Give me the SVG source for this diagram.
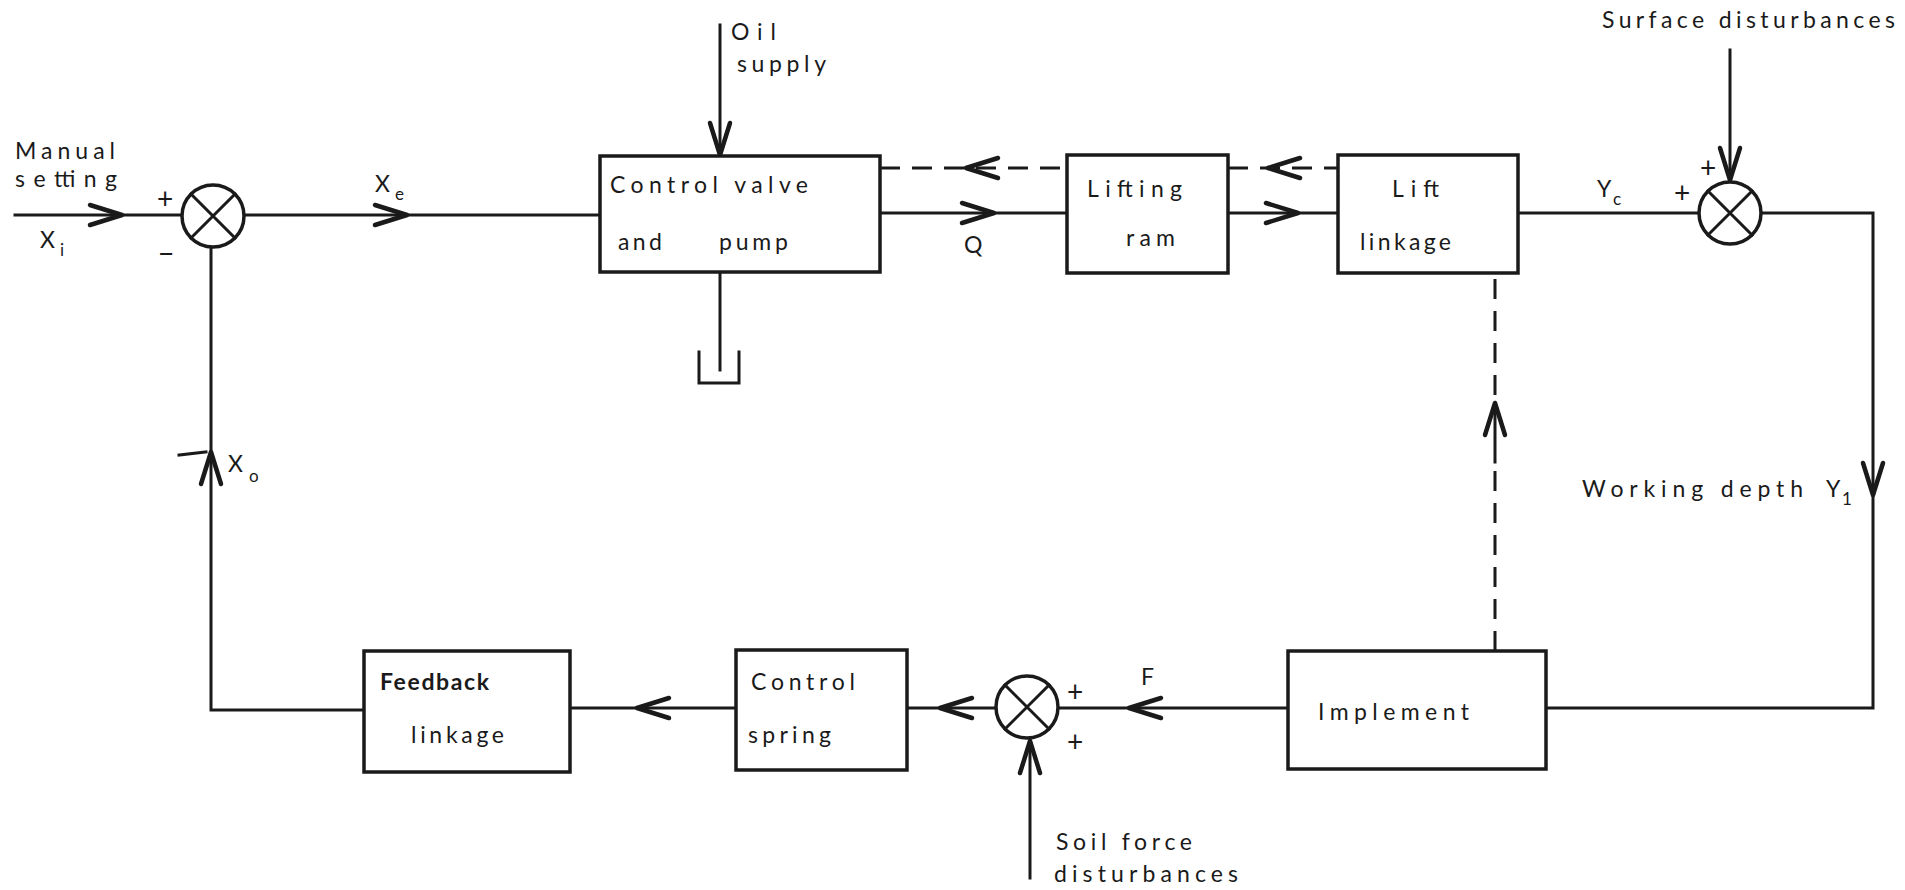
<svg xmlns="http://www.w3.org/2000/svg" xmlns:xlink="http://www.w3.org/1999/xlink" width="1905" height="890" viewBox="0 0 1905 890">
<style>
.ln{fill:none;stroke:#1a1a1a;stroke-width:3;stroke-linecap:square;stroke-linejoin:miter}
.dash{fill:none;stroke:#1a1a1a;stroke-width:3;stroke-dasharray:20 12}
.box{fill:#fff;stroke:#1a1a1a;stroke-width:3.5}
.ar{fill:none;stroke:#1a1a1a;stroke-width:4.5;stroke-linecap:round;stroke-linejoin:round}
.sum{fill:#fff;stroke:#1a1a1a;stroke-width:3.5}
text{font-family:Lato,"Open Sans","DejaVu Sans",sans-serif;font-size:23px;fill:#1a1a1a}
.sub{font-size:17px}
.sg{font-size:28px}
</style>
<defs>
<path id="chev" d="M-32,-10 L0,0 L-32,10"/>
<g id="sx">
<circle class="sum" cx="0" cy="0" r="31"/>
<path class="ln" d="M-22,-22 L22,22 M-22,22 L22,-22"/>
</g>
</defs>
<rect width="1905" height="890" fill="#fff"/>

<g id="connectors">
<path class="ln" d="M15,215 H182"/>
<use href="#chev" class="ar" transform="translate(122,215)"/>
<path class="ln" d="M244,215 H600"/>
<use href="#chev" class="ar" transform="translate(407,215)"/>
<path class="ln" d="M720,25 V156"/>
<use href="#chev" class="ar" transform="translate(720,155) rotate(90)"/>
<path class="ln" d="M720,272 V370"/>
<path class="ln" d="M699,352 V383 H739 V352"/>
<path class="ln" d="M880,213 H1067"/>
<use href="#chev" class="ar" transform="translate(994,213)"/>
<path class="ln" d="M1228,213 H1338"/>
<use href="#chev" class="ar" transform="translate(1298,213)"/>
<path class="dash" d="M880,168 H1067"/>
<use href="#chev" class="ar" transform="translate(966,168) rotate(180)"/>
<path class="dash" d="M1228,168 H1338"/>
<use href="#chev" class="ar" transform="translate(1268,168) rotate(180)"/>
<path class="ln" d="M1518,213 H1699"/>
<path class="ln" d="M1761,213 H1873 V708 H1546"/>
<use href="#chev" class="ar" transform="translate(1873,495) rotate(90)"/>
<path class="ln" d="M1730,50 V182"/>
<use href="#chev" class="ar" transform="translate(1730,180) rotate(90)"/>
<path class="dash" d="M1495,651 V462"/>
<path class="ln" d="M1495,462 V404"/>
<use href="#chev" class="ar" transform="translate(1495,403) rotate(-90)"/>
<path class="dash" d="M1495,395 V273" stroke-dasharray="0 8 26 16"/>
<path class="ln" d="M1288,708 H1058"/>
<use href="#chev" class="ar" transform="translate(1129,708) rotate(180)"/>
<path class="ln" d="M1030,878 V739"/>
<use href="#chev" class="ar" transform="translate(1030,741) rotate(-90)"/>
<path class="ln" d="M996,708 H907"/>
<use href="#chev" class="ar" transform="translate(940,708) rotate(180)"/>
<path class="ln" d="M736,708 H570"/>
<use href="#chev" class="ar" transform="translate(637,708) rotate(180)"/>
<path class="ln" d="M364,710 H211 V247"/>
<use href="#chev" class="ar" transform="translate(211,452) rotate(-90)"/>
<path class="ln" d="M179,455 L206,452" stroke-width="2"/>
</g>

<g id="sum1"><use href="#sx" transform="translate(213,216)"/>
<text class="sg" x="157" y="209">+</text><text class="sg" x="158" y="264">−</text></g>
<g id="sum2"><use href="#sx" transform="translate(1730,213)"/>
<text class="sg" x="1674" y="203">+</text><text class="sg" x="1700" y="178">+</text></g>
<g id="sum3"><use href="#sx" transform="translate(1027,707)"/>
<text class="sg" x="1067" y="702">+</text><text class="sg" x="1067" y="752">+</text></g>

<g id="control-valve">
<rect class="box" x="600" y="156" width="280" height="116"/>
<text x="610" y="193" textLength="198" lengthAdjust="spacing">Control  valve</text>
<text x="618" y="250" textLength="44" lengthAdjust="spacing">and</text>
<text x="719" y="250" textLength="69" lengthAdjust="spacing">pump</text>
</g>
<g id="lifting-ram">
<rect class="box" x="1067" y="155" width="161" height="118"/>
<text x="1087" y="197" textLength="95" lengthAdjust="spacing">Lifting</text>
<text x="1126" y="246" textLength="49" lengthAdjust="spacing">ram</text>
</g>
<g id="lift-linkage">
<rect class="box" x="1338" y="155" width="180" height="118"/>
<text x="1392" y="197" textLength="47" lengthAdjust="spacing">Lift</text>
<text x="1360" y="250" textLength="91" lengthAdjust="spacing">linkage</text>
</g>
<g id="implement">
<rect class="box" x="1288" y="651" width="258" height="118"/>
<text x="1318" y="720" textLength="151" lengthAdjust="spacing">Implement</text>
</g>
<g id="control-spring">
<rect class="box" x="736" y="650" width="171" height="120"/>
<text x="751" y="690" textLength="104" lengthAdjust="spacing">Control</text>
<text x="748" y="743" textLength="83" lengthAdjust="spacing">spring</text>
</g>
<g id="feedback-linkage">
<rect class="box" x="364" y="651" width="206" height="121"/>
<text x="380" y="690" textLength="109" lengthAdjust="spacing" font-weight="bold">Feedback</text>
<text x="411" y="743" textLength="93" lengthAdjust="spacing">linkage</text>
</g>

<g id="labels">
<text x="15" y="159" textLength="100" lengthAdjust="spacing">Manual</text>
<text x="15" y="187" textLength="102" lengthAdjust="spacing">setting</text>
<text x="40" y="248">X</text><text class="sub" x="60" y="256">i</text>
<text x="375" y="192">X</text><text class="sub" x="395" y="200">e</text>
<text x="731" y="40" textLength="45" lengthAdjust="spacing">Oil</text>
<text x="737" y="72" textLength="89" lengthAdjust="spacing">supply</text>
<text x="964" y="253">Q</text>
<text x="1597" y="197">Y</text><text class="sub" x="1613" y="205">c</text>
<text x="1602" y="28" textLength="293" lengthAdjust="spacing">Surface disturbances</text>
<text x="1582" y="497" textLength="221" lengthAdjust="spacing">Working  depth</text>
<text x="1826" y="497">Y</text><text class="sub" x="1842" y="505">1</text>
<text x="1141" y="685" font-size="18">F</text>
<text x="1056" y="850" textLength="136" lengthAdjust="spacing">Soil force</text>
<text x="1054" y="882" textLength="184" lengthAdjust="spacing">disturbances</text>
<text x="228" y="472">X</text><text class="sub" x="249" y="482">o</text>
</g>
</svg>
